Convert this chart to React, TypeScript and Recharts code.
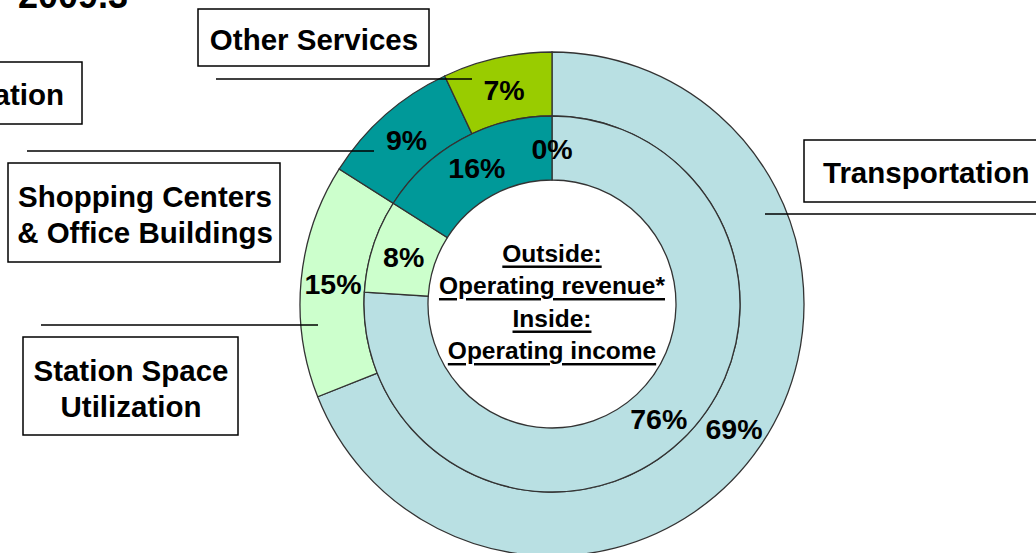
import { PieChart, Pie, Cell } from 'recharts';

// segments, clockwise from 12 o'clock
const segments = ['Transportation', 'Station Space Utilization', 'Shopping Centers & Office Buildings', 'Other Services'];
const revenueShare = [69, 15, 9, 7]; // outer ring
const incomeShare = [76, 8, 16, 0]; // inner ring
const segmentColors = ['#B9E0E3', '#CCFFCC', '#009999', '#99CC00'];
const centerLines = ['Outside:', 'Operating revenue*', 'Inside:', 'Operating income'];
const titleText = '2009.3';

const revenueData = segments.map((name, i) => ({ name, value: revenueShare[i] }));
const incomeData = segments.map((name, i) => ({ name, value: incomeShare[i] }));

const FONT = '"Liberation Sans", Arial, sans-serif';
const RADIAN = Math.PI / 180;
const CX = 552;
const CY = 304;

// callout boxes and leader lines (drawn shapes on the slide)
const boxes = [
  { x: 198, y: 9, w: 231, h: 57, tx: 314, anchor: 'middle', lines: ['Other Services'], ly: [39] },
  { x: -220, y: 62, w: 302, h: 62, tx: 64, anchor: 'end', lines: ['Transportation'], ly: [94] },
  { x: 8, y: 163, w: 272, h: 99, tx: 145, anchor: 'middle', lines: ['Shopping Centers', '& Office Buildings'], ly: [196, 232] },
  { x: 23, y: 337, w: 215, h: 98, tx: 131, anchor: 'middle', lines: ['Station Space', 'Utilization'], ly: [370, 406] },
  { x: 804, y: 140, w: 260, h: 62, tx: 823, anchor: 'start', lines: ['Transportation'], ly: [172] },
];
const leaders = [
  { x1: 216, x2: 472, y: 79 },
  { x1: 27, x2: 374, y: 151 },
  { x1: 41, x2: 318, y: 325 },
  { x1: 765, x2: 1040, y: 214 },
];

const renderPct = (props: any) => {
  const { cx, cy, midAngle, innerRadius, outerRadius, value } = props;
  const r = (innerRadius + outerRadius) / 2;
  const x = cx + r * Math.cos(-midAngle * RADIAN);
  const y = cy + r * Math.sin(-midAngle * RADIAN);
  return (
    <text x={x} y={y + 1} textAnchor="middle" dominantBaseline="central" fill="#000" fontFamily={FONT} fontWeight="bold" fontSize={28.5}>
      {value}%
    </text>
  );
};

export default function App() {
  return (
    <div style={{ position: 'absolute', left: 0, top: 0, width: 1036, height: 553, overflow: 'hidden', background: '#fff' }}>
      <PieChart width={1036} height={553} margin={{ top: 0, right: 0, bottom: 0, left: 0 }}>
        <Pie
          data={revenueData}
          dataKey="value"
          cx={CX}
          cy={CY}
          innerRadius={188}
          outerRadius={252}
          startAngle={90}
          endAngle={-270}
          stroke="#333"
          strokeWidth={1.3}
          label={renderPct}
          labelLine={false}
          isAnimationActive={false}
        >
          {revenueData.map((d, i) => (
            <Cell key={d.name} fill={segmentColors[i]} />
          ))}
        </Pie>
        <Pie
          data={incomeData}
          dataKey="value"
          cx={CX}
          cy={CY}
          innerRadius={124}
          outerRadius={188}
          startAngle={90}
          endAngle={-270}
          stroke="#333"
          strokeWidth={1.3}
          label={renderPct}
          labelLine={false}
          isAnimationActive={false}
        >
          {incomeData.map((d, i) => (
            <Cell key={d.name} fill={segmentColors[i]} />
          ))}
        </Pie>
      </PieChart>
      <svg width={1036} height={553} style={{ position: 'absolute', left: 0, top: 0, pointerEvents: 'none' }}>
        <text x={18} y={8} fontFamily={FONT} fontWeight="bold" fontSize={36} fill="#000">
          {titleText}
        </text>
        {leaders.map((l, i) => (
          <line key={i} x1={l.x1} x2={l.x2} y1={l.y} y2={l.y} stroke="#000" strokeWidth={1.3} />
        ))}
        {boxes.map((b, i) => (
          <g key={i}>
            <rect x={b.x} y={b.y} width={b.w} height={b.h} fill="#fff" stroke="#000" strokeWidth={1.5} />
            {b.lines.map((t, j) => (
              <text key={j} x={b.tx} y={b.ly[j]} textAnchor={b.anchor as any} dominantBaseline="central" fontFamily={FONT} fontWeight="bold" fontSize={29.5} fill="#000">
                {t}
              </text>
            ))}
          </g>
        ))}
        {centerLines.map((t, i) => (
          <text
            key={t}
            x={CX}
            y={253 + i * 32.5}
            textAnchor="middle"
            dominantBaseline="central"
            fontFamily={FONT}
            fontWeight="bold"
            fontSize={24.5}
            fill="#000"
            style={{ textDecoration: 'underline', textDecorationThickness: '3px' }}
          >
            {t}
          </text>
        ))}
      </svg>
    </div>
  );
}
